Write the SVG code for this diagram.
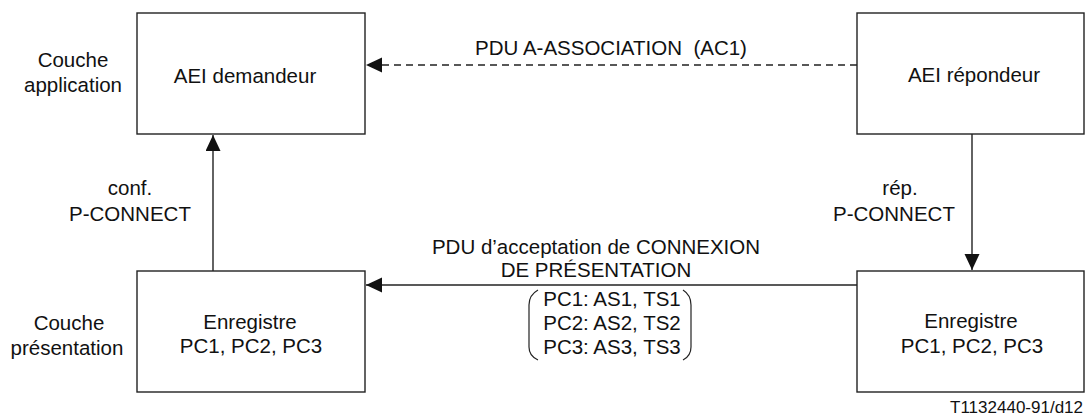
<svg xmlns="http://www.w3.org/2000/svg" width="1085" height="417" viewBox="0 0 1085 417">
  <style>
    text { font-family: "Liberation Sans", Arial, sans-serif; font-size: 20.5px; fill: #111; }
    .c { text-anchor: middle; }
    .box { fill: #fff; stroke: #222; stroke-width: 1.4; }
    .link { fill: none; stroke: #222; stroke-width: 1.4; }
    .dash { stroke-dasharray: 7 5; }
    .paren { fill: none; stroke: #222; stroke-width: 1.2; }
    .ref { font-size: 17px; text-anchor: end; }
  </style>
  <defs>
    <marker id="arrow" markerUnits="userSpaceOnUse" markerWidth="16" markerHeight="16" refX="16" refY="7.5" orient="auto">
      <path d="M0,0 L16,7.5 L0,15 Z" fill="#111"/>
    </marker>
  </defs>

  <rect width="1085" height="417" fill="#fff"/>

  <!-- layer labels -->
  <g id="layer-application">
    <text class="c" x="73" y="67">Couche</text>
    <text class="c" x="73" y="92">application</text>
  </g>
  <g id="layer-presentation">
    <text class="c" x="69" y="330">Couche</text>
    <text class="c" x="67" y="355">présentation</text>
  </g>

  <!-- connectors -->
  <g id="connectors">
    <line class="link dash" x1="857" y1="65" x2="366" y2="65" marker-end="url(#arrow)"/>
    <line class="link" x1="213" y1="271" x2="213" y2="135" marker-end="url(#arrow)"/>
    <line class="link" x1="972" y1="134" x2="972" y2="270" marker-end="url(#arrow)"/>
    <line class="link" x1="857" y1="285" x2="366" y2="285" marker-end="url(#arrow)"/>
  </g>

  <!-- connector labels -->
  <g id="label-association">
    <text class="c" x="611" y="55" xml:space="preserve">PDU A-ASSOCIATION  (AC1)</text>
  </g>
  <g id="label-conf">
    <text class="c" x="130" y="195">conf.</text>
    <text class="c" x="130" y="221">P-CONNECT</text>
  </g>
  <g id="label-rep">
    <text class="c" x="900" y="195">rép.</text>
    <text class="c" x="894" y="221">P-CONNECT</text>
  </g>
  <g id="label-acceptation">
    <text class="c" x="596" y="254">PDU d’acceptation de CONNEXION</text>
    <text class="c" x="596" y="277">DE PRÉSENTATION</text>
  </g>
  <g id="label-contexts">
    <path class="paren" d="M538,290 Q529,295 529,305 L529,347 Q529,356 538,360"/>
    <path class="paren" d="M683,290 Q691,295 691,305 L691,347 Q691,356 683,360"/>
    <text class="c" x="612" y="306">PC1: AS1, TS1</text>
    <text class="c" x="612" y="330">PC2: AS2, TS2</text>
    <text class="c" x="612" y="354">PC3: AS3, TS3</text>
  </g>

  <!-- nodes -->
  <g id="aei-demandeur">
    <rect class="box" x="137" y="13" width="228" height="121"/>
    <text class="c" x="245" y="83">AEI demandeur</text>
  </g>
  <g id="aei-repondeur">
    <rect class="box" x="857" y="13" width="227" height="121"/>
    <text class="c" x="974" y="82">AEI répondeur</text>
  </g>
  <g id="pres-demandeur">
    <rect class="box" x="137" y="271" width="228" height="121"/>
    <text class="c" x="250" y="329">Enregistre</text>
    <text class="c" x="251" y="353">PC1, PC2, PC3</text>
  </g>
  <g id="pres-repondeur">
    <rect class="box" x="857" y="271" width="227" height="121"/>
    <text class="c" x="971" y="328">Enregistre</text>
    <text class="c" x="972" y="353">PC1, PC2, PC3</text>
  </g>

  <text class="ref" x="1083" y="413">T1132440-91/d12</text>
</svg>
